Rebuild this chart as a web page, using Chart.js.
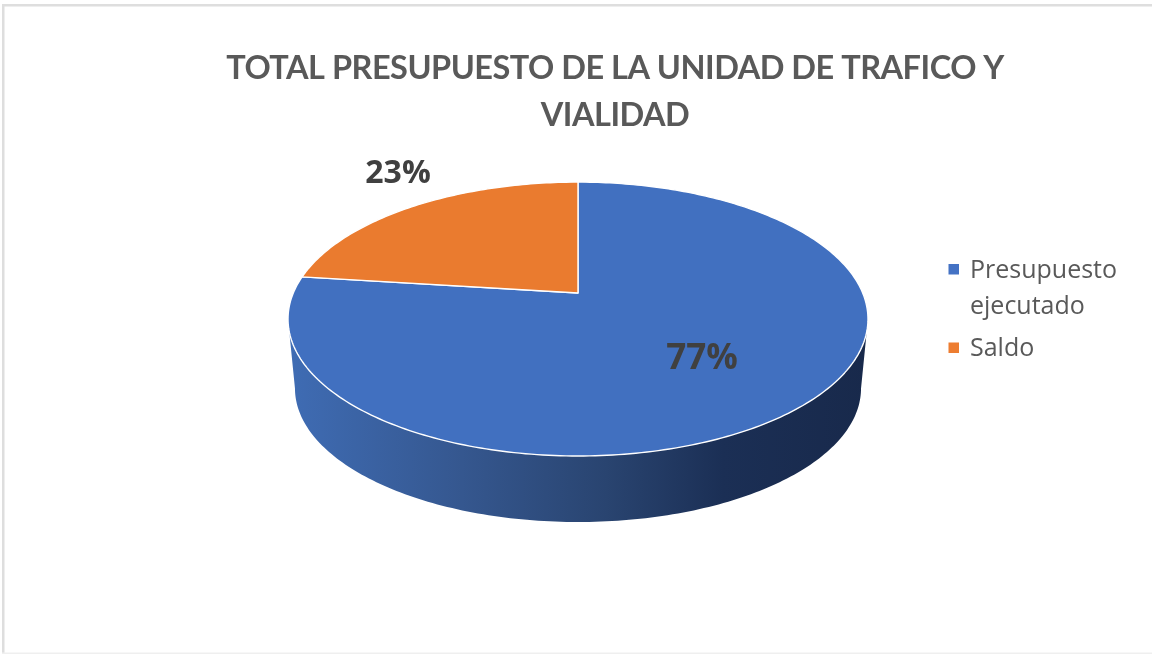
<!DOCTYPE html>
<html><head><meta charset="utf-8">
<style>html,body{margin:0;padding:0;background:#fff}canvas{display:block}</style>
<script src="https://cdn.jsdelivr.net/npm/chart.js@4"></script>
</head><body><canvas id="c" width="1152" height="654"></canvas>
<script>
const titleLines = ["TOTAL PRESUPUESTO DE LA UNIDAD DE TRAFICO Y", "VIALIDAD"];
const categories = ["Presupuesto ejecutado", "Saldo"];
const legendLines = [["Presupuesto", "ejecutado"], ["Saldo"]];
const values = [77, 23];
const colors = ["#4170C0", "#EA7B2F"];

// perspective view of the pie disc
const view = {cx: 578, cy: 293, sx: 284.7, sy: 132, k: 0.19, depth: 70, shrink: 0.976};
function project(a, scale, dy) {
  const u = Math.cos(a), v = Math.sin(a), d = 1 - view.k * v;
  return [view.cx + scale * view.sx * u / d, view.cy + scale * view.sy * v / d + dy];
}
function projectedArc(ctx, a0, a1, scale, dy) {
  const n = Math.max(2, Math.ceil(Math.abs(a1 - a0) * 60));
  for (let i = 0; i <= n; i++) {
    const p = project(a0 + (a1 - a0) * i / n, scale, dy);
    ctx.lineTo(p[0], p[1]);
  }
}
const pie3d = {
  id: "pie3d",
  afterLayout(chart) {
    chart.titleBlock.left += 78;
  },
  beforeDraw(chart) {
    const c = chart.ctx;
    c.save();
    c.fillStyle = "#fff";
    c.fillRect(0, 0, 1152, 654);
    c.fillStyle = "#dedede";
    c.fillRect(2, 4, 1150, 2.5);
    c.fillRect(2, 4, 2.5, 650);
    c.fillStyle = "#efefef";
    c.fillRect(2, 652.5, 1150, 1.5);
    c.restore();
    c.letterSpacing = "-0.5px";
  },
  beforeDatasetDraw(chart) {
    const c = chart.ctx, arcs = chart.getDatasetMeta(0).data;
    c.save();
    // side wall
    const g = c.createLinearGradient(288, 0, 868, 0);
    g.addColorStop(0, "#3F6CB4");
    g.addColorStop(0.3, "#35578F");
    g.addColorStop(0.55, "#294470");
    g.addColorStop(0.75, "#1B2F55");
    g.addColorStop(1, "#18294B");
    const w = Math.asin(view.k);
    c.beginPath();
    c.moveTo(288, 319);
    projectedArc(c, Math.PI - w, w, view.shrink, view.depth);
    c.lineTo(868, 319);
    c.closePath();
    c.fillStyle = g;
    c.fill();
    // top face
    arcs.forEach((arc, i) => {
      c.beginPath();
      c.moveTo(view.cx, view.cy);
      projectedArc(c, arc.startAngle, arc.endAngle, 1, 0);
      c.closePath();
      c.fillStyle = colors[i];
      c.fill();
      c.strokeStyle = "#fff";
      c.lineWidth = 1.4;
      c.lineJoin = "round";
      c.stroke();
    });
    c.restore();
    return false;
  },
  afterDatasetsDraw(chart) {
    const c = chart.ctx;
    c.save();
    // data labels
    c.fillStyle = "#404040";
    c.textAlign = "center";
    c.textBaseline = "alphabetic";
    c.letterSpacing = "0px";
    c.font = "bold 35px 'Open Sans'";
    c.fillText(values[0] + "%", 702, 369);
    c.font = "bold 32px 'Open Sans'";
    c.fillText(values[1] + "%", 398, 183);
    // legend
    c.font = "25px 'Open Sans'";
    c.textAlign = "left";
    const rows = [[264, [278, 314]], [342.5, [356]]];
    legendLines.forEach((lines, i) => {
      c.fillStyle = ["#4472C4", "#ED7D31"][i];
      c.fillRect(948.5, rows[i][0], 10.5, 10.5);
      c.fillStyle = "#595959";
      lines.forEach((t, j) => c.fillText(t, 970, rows[i][1][j]));
    });
    c.restore();
  }
};
new Chart(document.getElementById("c"), {
  type: "pie",
  data: {labels: categories, datasets: [{data: values, backgroundColor: colors, borderColor: "#fff"}]},
  options: {
    responsive: false,
    animation: false,
    devicePixelRatio: 1,
    plugins: {
      legend: {display: false},
      tooltip: {enabled: false},
      title: {
        display: true,
        text: titleLines,
        color: "#595959",
        font: {family: "Lato", weight: "bold", size: 32.5, lineHeight: 1.44},
        padding: {top: 45, bottom: 10}
      }
    }
  },
  plugins: [pie3d]
});
</script></body></html>
